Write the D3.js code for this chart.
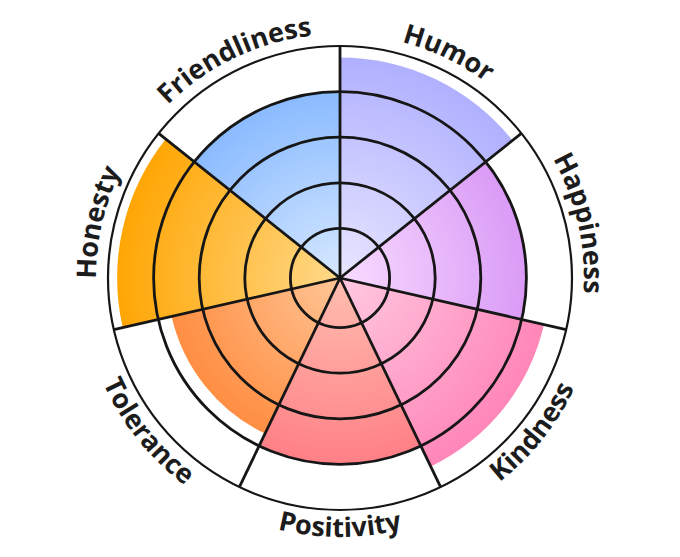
<!DOCTYPE html>
<html>
<head>
<meta charset="utf-8">
<script src="https://cdn.jsdelivr.net/npm/d3@7"></script>
<style>
  body { margin: 0; background: #fff; }
  svg { display: block; }
  .label { font-family: "Open Sans", sans-serif; font-weight: 700; font-size: 27px; fill: #1c1c1c; }
</style>
</head>
<body>
<svg id="svg" width="680" height="557"></svg>
<script>
 // DATA
 var categories = ["Humor", "Happiness", "Kindness", "Positivity", "Tolerance", "Honesty", "Friendliness"];
 var values = [4.75, 4.0, 4.5, 4.0, 3.7, 4.8, 4.0];
 var ringTicks = [1, 2, 3, 4, 5];
 var outerColors = ["#b0b0ff", "#da9bf6", "#ff86b8", "#ff8087", "#ff8e42", "#ffa604", "#8abbff"];
 var innerColors = ["#e8e6ff", "#f8dcff", "#ffc9e1", "#ffbeb0", "#ffc596", "#ffd98a", "#d6e8ff"];

 // SETUP
 var svg = d3.select("#svg"),
   cx = 340,
   cy = 278;

 var r = d3.scaleLinear().domain([0, 5]).range([4, 232]);

 var angle = d3.scaleBand()
   .domain(categories)
   .range([0, 2 * Math.PI])
   .padding(0);

 var defs = svg.append("defs");

 // one radial gradient per slice, light at centre
 categories.forEach(function (c, i) {
   var grad = defs.append("radialGradient")
     .attr("id", "grad" + i)
     .attr("gradientUnits", "userSpaceOnUse")
     .attr("cx", 0).attr("cy", 0)
     .attr("r", r(values[i]));
   grad.append("stop").attr("offset", "0%").attr("stop-color", innerColors[i]);
   grad.append("stop").attr("offset", "100%").attr("stop-color", outerColors[i]);
 });

 var arc = d3.arc()
   .innerRadius(0)
   .outerRadius(function (d, i) { return r(d); })
   .startAngle(function (d, i) { return angle(categories[i]); })
   .endAngle(function (d, i) { return angle(categories[i]) + angle.bandwidth(); });

 // slices
 svg.append("g")
   .attr("transform", "translate(" + cx + "," + cy + ")")
   .selectAll("path")
   .data(values)
   .enter().append("path")
   .attr("d", function (d, i) { return arc(d, i); })
   .attr("fill", function (d, i) { return "url(#grad" + i + ")"; });

 // gridlines on top
 var grid = svg.append("g")
   .attr("transform", "translate(" + cx + "," + cy + ")");

 grid.selectAll("circle")
   .data(ringTicks)
   .enter().append("circle")
   .attr("r", function (d) { return r(d); })
   .attr("fill", "none")
   .attr("stroke", "#161616")
   .attr("stroke-width", function (d) { return d == 5 ? 2.2 : 2.8; });

 grid.selectAll("line")
   .data(categories)
   .enter().append("line")
   .attr("x1", 0).attr("y1", 0)
   .attr("x2", function (d) { return r(5) * Math.sin(angle(d)); })
   .attr("y2", function (d) { return -r(5) * Math.cos(angle(d)); })
   .attr("stroke", "#161616")
   .attr("stroke-width", 2.8);

 // curved labels outside the circle
 function arcPath(rad, a0, a1, sweep) {
   var x0 = rad * Math.sin(a0), y0 = -rad * Math.cos(a0),
     x1 = rad * Math.sin(a1), y1 = -rad * Math.cos(a1);
   return "M" + x0 + "," + y0 + " A" + rad + "," + rad + " 0 0 " + sweep + " " + x1 + "," + y1;
 }

 var labels = svg.append("g")
   .attr("transform", "translate(" + cx + "," + cy + ")");

 categories.forEach(function (c, i) {
   var a0 = angle(c), a1 = a0 + angle.bandwidth(),
     mid = (a0 + a1) / 2,
     bottom = mid > Math.PI / 2 && mid < 3 * Math.PI / 2;
   var p = bottom ? arcPath(r(5) + 27, a1, a0, 0) : arcPath(r(5) + 12, a0, a1, 1);
   labels.append("path")
     .attr("id", "lab" + i)
     .attr("d", p)
     .attr("fill", "none");
   labels.append("text")
     .attr("class", "label")
     .append("textPath")
     .attr("href", "#lab" + i)
     .attr("startOffset", "50%")
     .attr("text-anchor", "middle")
     .text(c);
 });
</script>
</body>
</html>
